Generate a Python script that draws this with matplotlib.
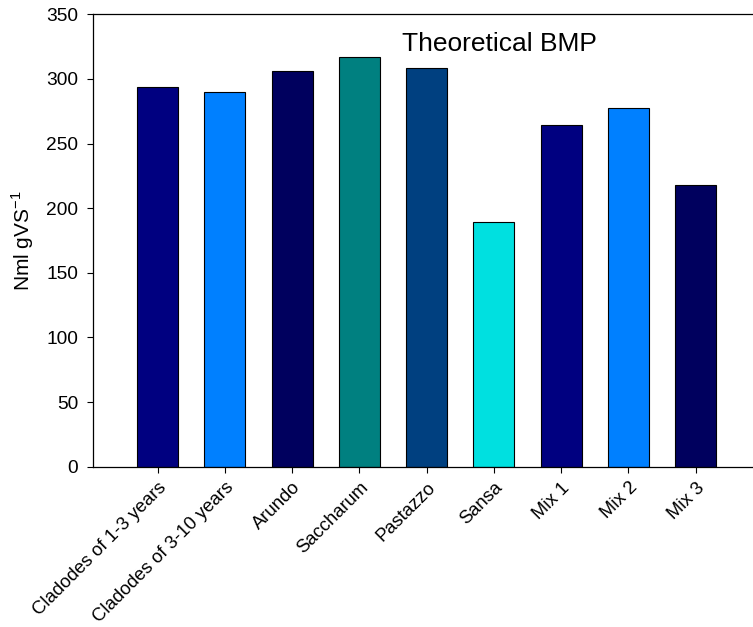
import matplotlib
matplotlib.use('Agg')
import matplotlib.pyplot as plt
import numpy as np

plt.rcParams['font.family'] = ['Liberation Sans', 'DejaVu Sans']

# theoretical biochemical methane potential per substrate
substrates = ['Cladodes of 1-3 years', 'Cladodes of 3-10 years', 'Arundo', 'Saccharum',
              'Pastazzo', 'Sansa', 'Mix 1', 'Mix 2', 'Mix 3']
bmp = [294.0, 289.6, 306.0, 317.0, 308.7, 189.3, 264.6, 277.5, 218.2]
colors = ['#000080', '#0080FF', '#00005E', '#008080', '#004080',
          '#00E0E0', '#000080', '#0080FF', '#00005E']
yticks = [0, 50, 100, 150, 200, 250, 300, 350]

fig = plt.figure(figsize=(7.53, 6.27), dpi=100)
ax = fig.add_axes([0.1239, 0.2557, 0.8761, 0.7215])

x = np.arange(len(substrates))
ax.bar(x, bmp, width=0.61, color=colors, edgecolor='black', linewidth=0.8)

ax.set_xlim(-0.958, 8.852)
ax.set_ylim(0, 350)
ax.set_yticks(yticks)
ax.set_xticks(x)
ax.set_xticklabels(substrates, rotation=45, ha='right', rotation_mode='anchor', fontsize=13.3)
ax.tick_params(axis='y', labelsize=13.8, length=4.5, width=0.8, direction='out', pad=6.5)
ax.tick_params(axis='x', length=4, width=0.8, direction='out', pad=5)

for s in ['left', 'top', 'bottom']:
    ax.spines[s].set_linewidth(0.9)
ax.spines['right'].set_visible(False)

ax.set_ylabel('Nml gVS$^{\\mathregular{-1}}$', fontsize=15, labelpad=7)

fig.text(402 / 753, 1 - 51 / 627, 'Theoretical BMP', fontsize=19, va='baseline', ha='left')

fig.savefig('out.png', dpi=100)
